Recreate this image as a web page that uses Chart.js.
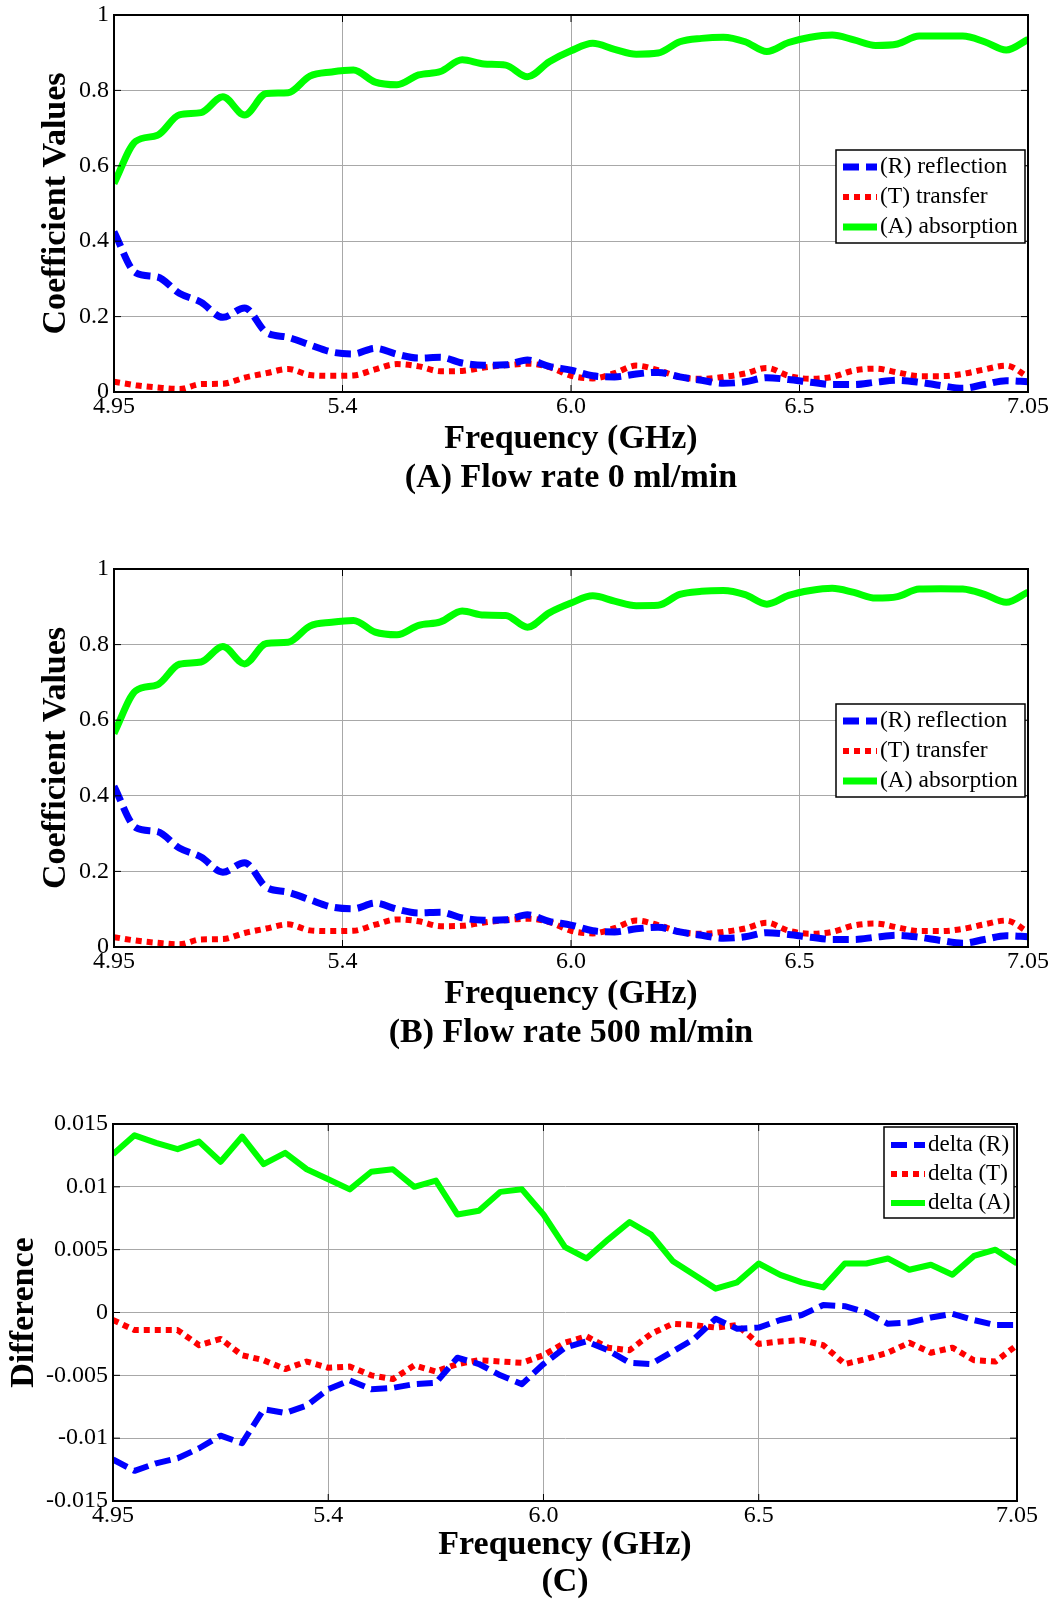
<!DOCTYPE html>
<html>
<head>
<meta charset="utf-8">
<script src="https://cdn.jsdelivr.net/npm/chart.js@4.4.1/dist/chart.umd.min.js"></script>
<style>
  body { margin: 0; background: #fff; overflow: hidden; }
  #wrap { position: relative; width: 1052px; height: 1601px; overflow: hidden; }
  canvas { position: absolute; left: 0; }
</style>
</head>
<body>
<div id="wrap">
  <canvas id="chartA" width="1052" height="497" style="top:-2px"></canvas>
  <canvas id="chartB" width="1052" height="498" style="top:552px"></canvas>
  <canvas id="chartC" width="1052" height="492" style="top:1107px"></canvas>
</div>
<script>
// frequency sweep (GHz)
const freq = [4.95, 5.00, 5.05, 5.10, 5.15, 5.20, 5.25, 5.30, 5.35, 5.40, 5.45,
  5.50, 5.55, 5.60, 5.65, 5.70, 5.75, 5.80, 5.85, 5.90, 5.95,
  6.00, 6.05, 6.10, 6.15, 6.20, 6.25, 6.30, 6.35, 6.40, 6.45,
  6.50, 6.55, 6.60, 6.65, 6.70, 6.75, 6.80, 6.85, 6.90, 6.95, 7.00, 7.05];

// (A) flow rate 0 ml/min
const reflA = [0.425, 0.316, 0.305, 0.262, 0.238, 0.198, 0.223, 0.158, 0.145, 0.125,
  0.106, 0.101, 0.116, 0.100, 0.090, 0.092, 0.077, 0.071, 0.072, 0.085,
  0.068, 0.058, 0.043, 0.040, 0.048, 0.052, 0.040, 0.031, 0.023, 0.027,
  0.038, 0.033, 0.026, 0.020, 0.020, 0.026, 0.031, 0.026, 0.017, 0.010,
  0.020, 0.030, 0.027];
const tranA = [0.027, 0.018, 0.012, 0.008, 0.021, 0.022, 0.038, 0.050, 0.061, 0.045,
  0.043, 0.044, 0.060, 0.074, 0.068, 0.055, 0.056, 0.065, 0.071, 0.075,
  0.066, 0.043, 0.036, 0.050, 0.070, 0.058, 0.040, 0.035, 0.040, 0.049,
  0.064, 0.043, 0.035, 0.040, 0.057, 0.062, 0.052, 0.042, 0.042, 0.048,
  0.060, 0.070, 0.040];
const absA = [0.553, 0.665, 0.681, 0.735, 0.741, 0.783, 0.735, 0.792, 0.794, 0.838,
  0.849, 0.854, 0.822, 0.815, 0.841, 0.850, 0.881, 0.870, 0.867, 0.836,
  0.876, 0.905, 0.925, 0.909, 0.896, 0.899, 0.929, 0.938, 0.941, 0.929,
  0.903, 0.927, 0.941, 0.947, 0.934, 0.919, 0.923, 0.944, 0.944, 0.944,
  0.929, 0.907, 0.935];

// (B) flow rate 500 ml/min
const reflB = [0.425, 0.316, 0.305, 0.262, 0.238, 0.198, 0.223, 0.158, 0.145, 0.125,
  0.106, 0.101, 0.116, 0.100, 0.090, 0.092, 0.077, 0.071, 0.072, 0.085,
  0.068, 0.058, 0.043, 0.040, 0.048, 0.052, 0.040, 0.031, 0.023, 0.027,
  0.038, 0.033, 0.026, 0.020, 0.020, 0.026, 0.031, 0.026, 0.017, 0.010,
  0.020, 0.030, 0.027];
const tranB = [0.026, 0.017, 0.011, 0.007, 0.020, 0.021, 0.037, 0.049, 0.060, 0.044,
  0.042, 0.043, 0.059, 0.073, 0.068, 0.055, 0.056, 0.065, 0.071, 0.075,
  0.066, 0.043, 0.036, 0.050, 0.070, 0.058, 0.040, 0.035, 0.040, 0.049,
  0.064, 0.043, 0.035, 0.040, 0.057, 0.062, 0.052, 0.042, 0.042, 0.048,
  0.060, 0.070, 0.040];
const absB = [0.565, 0.678, 0.694, 0.748, 0.754, 0.795, 0.749, 0.803, 0.806, 0.849,
  0.859, 0.864, 0.833, 0.826, 0.851, 0.860, 0.889, 0.878, 0.877, 0.846,
  0.884, 0.910, 0.929, 0.915, 0.903, 0.904, 0.933, 0.941, 0.943, 0.932,
  0.907, 0.930, 0.943, 0.949, 0.938, 0.923, 0.927, 0.947, 0.948, 0.947,
  0.933, 0.912, 0.939];

// (C) differences
const dRefl = [-0.0117, -0.0126, -0.0120, -0.0116, -0.0108, -0.0098, -0.0104, -0.0077, -0.0080, -0.0074,
  -0.0061, -0.0054, -0.0061, -0.0060, -0.0057, -0.0056, -0.0036, -0.0041, -0.0050, -0.0057,
  -0.0041, -0.0028, -0.0023, -0.0030, -0.0040, -0.0041, -0.0031, -0.0021, -0.0005, -0.0013,
  -0.0012, -0.0006, -0.0002, 0.0006, 0.0005, 0.0000, -0.0009, -0.0008, -0.0004, -0.0001,
  -0.0006, -0.0010, -0.0010];
const dTran = [-0.0006, -0.0014, -0.0014, -0.0014, -0.0026, -0.0021, -0.0034, -0.0038, -0.0045, -0.0039,
  -0.0044, -0.0043, -0.0050, -0.0053, -0.0042, -0.0047, -0.0041, -0.0038, -0.0039, -0.0040,
  -0.0034, -0.0024, -0.0019, -0.0028, -0.0030, -0.0017, -0.0009, -0.0010, -0.0012, -0.0010,
  -0.0025, -0.0023, -0.0022, -0.0026, -0.0041, -0.0037, -0.0032, -0.0024, -0.0032, -0.0028,
  -0.0038, -0.0039, -0.0026];
const dAbs = [0.0126, 0.0141, 0.0135, 0.0130, 0.0136, 0.0120, 0.0140, 0.0118, 0.0127, 0.0114,
  0.0106, 0.0098, 0.0112, 0.0114, 0.0100, 0.0105, 0.0078, 0.0081, 0.0096, 0.0098,
  0.0078, 0.0052, 0.0043, 0.0058, 0.0072, 0.0062, 0.0041, 0.0030, 0.0019, 0.0024,
  0.0039, 0.0030, 0.0024, 0.0020, 0.0039, 0.0039, 0.0043, 0.0034, 0.0038, 0.0030,
  0.0045, 0.0050, 0.0039];

// axis ticks
const xTicksAB = [4.95, 5.475, 6.0, 6.525, 7.05];
const xTicksC = [4.95, 5.45, 5.95, 6.45, 7.05];
const xLabels = ['4.95', '5.4', '6.0', '6.5', '7.05'];
const yTicksAB = [0, 0.2, 0.4, 0.6, 0.8, 1];
const yLabelsAB = ['0', '0.2', '0.4', '0.6', '0.8', '1'];
const yTicksC = [-0.015, -0.01, -0.005, 0, 0.005, 0.01, 0.015];
const yLabelsC = ['-0.015', '-0.01', '-0.005', '0', '0.005', '0.01', '0.015'];

const serif = "'Liberation Serif', 'Times New Roman', serif";
const tickFont = { family: serif, size: 24, lineHeight: 1 };
const bigFont = { family: serif, size: 34, weight: 'bold', lineHeight: 1 };

// box around the axes + small inward tick marks
const frame = {
  id: 'frame',
  afterDatasetsDraw(chart) {
    const { ctx, chartArea: a, scales } = chart;
    ctx.save();
    ctx.strokeStyle = '#000';
    ctx.lineWidth = 1;
    ctx.beginPath();
    scales.x.ticks.forEach(t => {
      const px = scales.x.getPixelForValue(t.value);
      ctx.moveTo(px, a.bottom); ctx.lineTo(px, a.bottom - 7);
      ctx.moveTo(px, a.top); ctx.lineTo(px, a.top + 7);
    });
    scales.y.ticks.forEach(t => {
      const py = scales.y.getPixelForValue(t.value);
      ctx.moveTo(a.left, py); ctx.lineTo(a.left + 7, py);
      ctx.moveTo(a.right, py); ctx.lineTo(a.right - 7, py);
    });
    ctx.stroke();
    ctx.lineWidth = 2;
    ctx.strokeRect(a.left, a.top, a.right - a.left, a.bottom - a.top);
    ctx.restore();
  }
};

// MATLAB style legend box
const boxLegend = {
  id: 'boxLegend',
  afterDraw(chart, args, opts) {
    const { ctx, chartArea: a } = chart;
    const x = a.right - opts.right - opts.width;
    const y = a.top + opts.top;
    ctx.save();
    ctx.fillStyle = '#fff';
    ctx.fillRect(x, y, opts.width, opts.height);
    ctx.strokeStyle = '#000';
    ctx.lineWidth = 1.5;
    ctx.strokeRect(x, y, opts.width, opts.height);
    chart.data.datasets.forEach((ds, i) => {
      const ry = y + opts.rows[i];
      ctx.beginPath();
      ctx.setLineDash(ds.borderDash || []);
      ctx.lineWidth = ds.borderWidth;
      ctx.strokeStyle = ds.borderColor;
      ctx.lineCap = 'butt';
      ctx.moveTo(x + 7, ry);
      ctx.lineTo(x + 41, ry);
      ctx.stroke();
      ctx.setLineDash([]);
      ctx.fillStyle = '#000';
      ctx.font = opts.fontSize + 'px ' + serif;
      ctx.textBaseline = 'middle';
      ctx.fillText(ds.label, x + 44, ry);
    });
    ctx.restore();
  }
};

function series(label, vals, color, dash, width, smooth) {
  return {
    label: label,
    data: vals.map((v, i) => ({ x: freq[i], y: v })),
    borderColor: color,
    borderWidth: width,
    borderDash: dash,
    borderCapStyle: 'butt',
    borderJoinStyle: 'round',
    pointRadius: 0,
    fill: false,
    cubicInterpolationMode: smooth ? 'monotone' : 'default',
    tension: 0
  };
}

function panel(id, p) {
  new Chart(document.getElementById(id), {
    type: 'line',
    data: { datasets: p.datasets },
    plugins: [frame, boxLegend],
    options: {
      responsive: false,
      animation: false,
      layout: { padding: { top: 17, right: p.padRight, left: 0, bottom: 0 } },
      scales: {
        x: {
          type: 'linear', min: 4.95, max: 7.05,
          afterBuildTicks: s => { s.ticks = p.xTicks.map(v => ({ value: v })); },
          afterFit: s => { s.height = p.xHeight; },
          ticks: { font: tickFont, color: '#000', padding: 3, maxRotation: 0, autoSkip: false,
            callback: (v, i) => xLabels[i] },
          grid: { color: '#a8a8a8', lineWidth: 1, drawTicks: false },
          border: { color: '#000', width: 2 },
          title: { display: true, text: 'Frequency (GHz)', font: bigFont, color: '#000',
            padding: { top: 0, bottom: 0 } }
        },
        y: {
          min: p.yTicks[0], max: p.yTicks[p.yTicks.length - 1],
          afterBuildTicks: s => { s.ticks = p.yTicks.map(v => ({ value: v })); },
          afterFit: s => { s.width = p.yWidth; },
          ticks: { font: tickFont, color: '#000', padding: 5, callback: (v, i) => p.yLabels[i] },
          grid: { color: '#a8a8a8', lineWidth: 1, drawTicks: false },
          border: { color: '#000', width: 2 },
          title: { display: true, text: p.yTitle, font: bigFont, color: '#000',
            padding: { top: p.yTitlePad, bottom: 0 } }
        }
      },
      plugins: {
        legend: { display: false },
        tooltip: { enabled: false },
        title: { display: true, position: 'bottom', fullSize: false, text: p.caption,
          font: bigFont, color: '#000', padding: { top: p.capPad, bottom: 0 } },
        boxLegend: p.legend
      }
    }
  });
}

const legendAB = { right: 3, top: 135, width: 189, height: 93, rows: [17, 47, 77], fontSize: 23.5 };

panel('chartA', {
  datasets: [
    series('(R) reflection', reflA, '#0000ff', [16, 7], 7, true),
    series('(T) transfer', tranA, '#ff0000', [6, 5], 6, true),
    series('(A) absorption', absA, '#00ff00', [], 7, true)
  ],
  xTicks: xTicksAB, yTicks: yTicksAB, yLabels: yLabelsAB,
  yTitle: 'Coefficient Values', yTitlePad: 39, yWidth: 114, padRight: 24,
  xHeight: 64, capPad: 5, caption: '(A) Flow rate 0 ml/min', legend: legendAB
});

panel('chartB', {
  datasets: [
    series('(R) reflection', reflB, '#0000ff', [16, 7], 7, true),
    series('(T) transfer', tranB, '#ff0000', [6, 5], 6, true),
    series('(A) absorption', absB, '#00ff00', [], 7, true)
  ],
  xTicks: xTicksAB, yTicks: yTicksAB, yLabels: yLabelsAB,
  yTitle: 'Coefficient Values', yTitlePad: 39, yWidth: 114, padRight: 24,
  xHeight: 64, capPad: 5, caption: '(B) Flow rate 500 ml/min', legend: legendAB
});

panel('chartC', {
  datasets: [
    series('delta (R)', dRefl, '#0000ff', [16, 7], 6, false),
    series('delta (T)', dTran, '#ff0000', [6, 5], 6, false),
    series('delta (A)', dAbs, '#00ff00', [], 6, false)
  ],
  xTicks: xTicksC, yTicks: yTicksC, yLabels: yLabelsC,
  yTitle: 'Difference', yTitlePad: 7, yWidth: 113, padRight: 35,
  xHeight: 61, capPad: 3, caption: '(C)',
  legend: { right: 3, top: 3, width: 130, height: 91, rows: [18, 47, 76], fontSize: 23 }
});
</script>
</body>
</html>
